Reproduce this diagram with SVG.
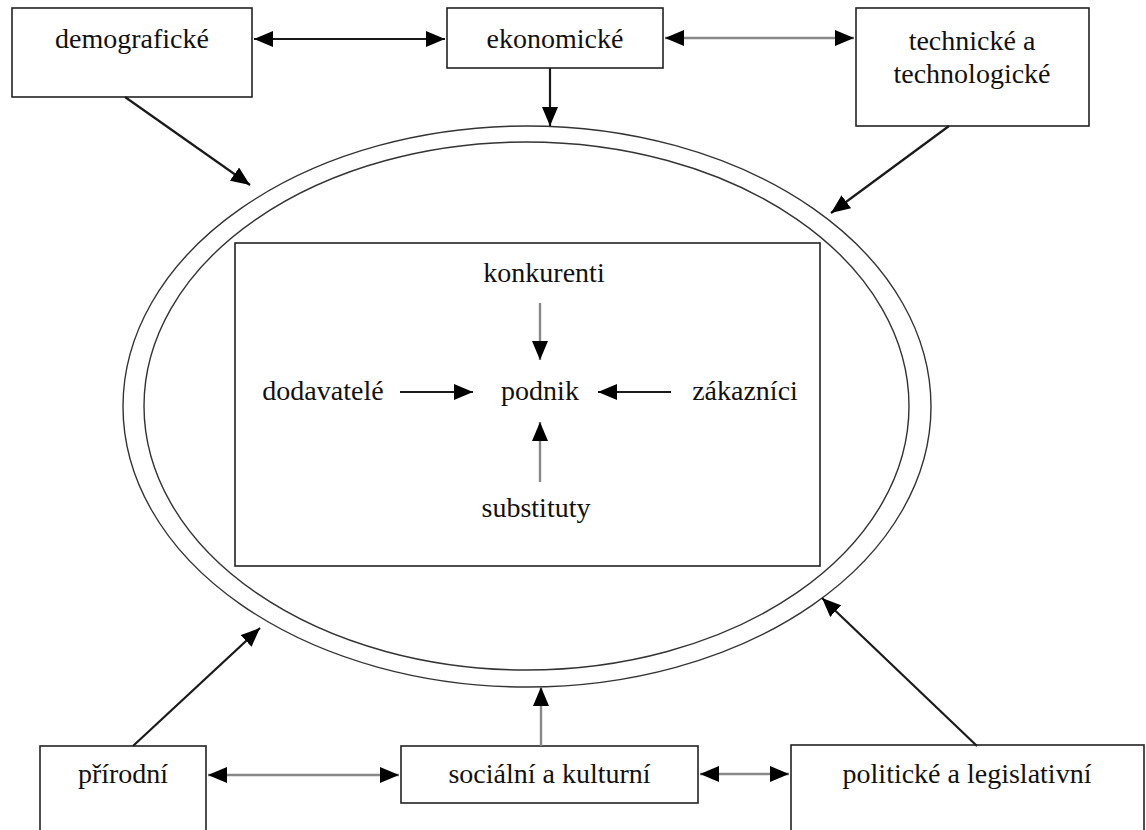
<svg xmlns="http://www.w3.org/2000/svg" width="1146" height="830" viewBox="0 0 1146 830">
<style>
.box{fill:#fff;stroke:#222;stroke-width:1.6}
.t{font-family:"Liberation Serif","Times New Roman",serif;font-size:28px;fill:#111;text-anchor:middle}
.ln{fill:none;stroke:#1a1a1a;stroke-width:2.2}
.lg{fill:none;stroke:#888;stroke-width:2.4}
.el{fill:none;stroke:#333;stroke-width:1.4}
</style>
<defs>
<marker id="ah" viewBox="0 0 19 16" refX="19" refY="8" markerWidth="19" markerHeight="16" markerUnits="userSpaceOnUse" orient="auto-start-reverse">
<path d="M0,0 L19,8 L0,16 Z" fill="#000"/>
</marker>
</defs>
<rect width="1146" height="830" fill="#fff"/>
<g id="ellipse">
<ellipse class="el" cx="527" cy="406.5" rx="404" ry="280.5"/>
<ellipse class="el" cx="526.5" cy="406" rx="382.5" ry="264"/>
</g>
<g id="inner">
<rect class="box" x="235" y="243" width="585" height="323"/>
</g>
<g id="n-demograficke"><rect class="box" x="12" y="8" width="240" height="89"/><text class="t" x="132" y="48">demografické</text></g>
<g id="n-ekonomicke"><rect class="box" x="447" y="8" width="216" height="60"/><text class="t" x="555" y="48">ekonomické</text></g>
<g id="n-technicke"><rect class="box" x="856" y="8" width="233" height="118"/><text class="t" x="972" y="50">technické a</text><text class="t" x="972" y="83">technologické</text></g>
<g id="n-prirodni"><rect class="box" x="40" y="746" width="166" height="100"/><text class="t" x="123" y="783">přírodní</text></g>
<g id="n-socialni"><rect class="box" x="401" y="746" width="297" height="57"/><text class="t" x="549.5" y="783">sociální a kulturní</text></g>
<g id="n-politicke"><rect class="box" x="791" y="745" width="353" height="100"/><text class="t" x="967" y="783">politické a legislativní</text></g>
<g id="n-konkurenti"><text class="t" x="544" y="282">konkurenti</text></g>
<g id="n-podnik"><text class="t" x="540" y="400">podnik</text></g>
<g id="n-dodavatele"><text class="t" x="323" y="400">dodavatelé</text></g>
<g id="n-zakaznici"><text class="t" x="745" y="400">zákazníci</text></g>
<g id="n-substituty"><text class="t" x="536" y="517">substituty</text></g>
<g id="connectors">
<line class="ln" x1="254" y1="39" x2="445" y2="39" marker-start="url(#ah)" marker-end="url(#ah)"/>
<line class="lg" x1="665" y1="38" x2="854" y2="38" marker-start="url(#ah)" marker-end="url(#ah)"/>
<line class="lg" x1="208" y1="775" x2="399" y2="775" marker-start="url(#ah)" marker-end="url(#ah)"/>
<line class="lg" x1="700" y1="774" x2="789" y2="774" marker-start="url(#ah)" marker-end="url(#ah)"/>
<line class="ln" x1="125" y1="97" x2="250" y2="185" marker-end="url(#ah)"/>
<line class="ln" x1="550" y1="68" x2="550" y2="126" marker-end="url(#ah)"/>
<line class="ln" x1="949" y1="126" x2="831" y2="213" marker-end="url(#ah)"/>
<line class="ln" x1="133" y1="746" x2="260" y2="628" marker-end="url(#ah)"/>
<line class="lg" x1="541" y1="746" x2="541" y2="687" marker-end="url(#ah)"/>
<line class="ln" x1="977" y1="746" x2="822" y2="598" marker-end="url(#ah)"/>
<line class="lg" x1="540" y1="303" x2="540" y2="360" marker-end="url(#ah)"/>
<line class="ln" x1="400" y1="392" x2="473" y2="392" marker-end="url(#ah)"/>
<line class="ln" x1="671" y1="392" x2="598" y2="392" marker-end="url(#ah)"/>
<line class="lg" x1="540" y1="482" x2="540" y2="422" marker-end="url(#ah)"/>
</g>
</svg>
